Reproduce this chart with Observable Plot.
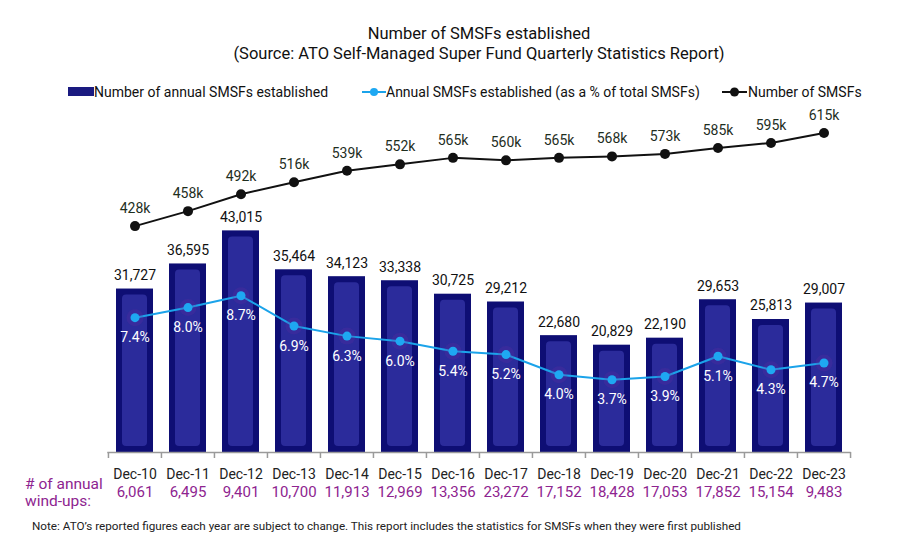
<!DOCTYPE html>
<html><head><meta charset="utf-8">
<script src="https://cdn.jsdelivr.net/npm/d3@7"></script>
<script src="https://cdn.jsdelivr.net/npm/@observablehq/plot@0.6"></script>
<style>
body{margin:0;background:#fff;font-family:Roboto,sans-serif;width:897px;height:544px;position:relative;overflow:hidden;color:#111}
.abs{position:absolute;white-space:nowrap}
#title{left:0;top:24px;width:958px;text-align:center;font-size:16.5px;line-height:20px;color:#111}
.leg{top:83.7px;font-size:14px;line-height:16px;color:#111}
#chart{position:absolute;left:0;top:100px}
#wl{left:25px;top:476px;font-size:15.5px;line-height:17.4px;color:#8e2490}
#note{left:32px;top:519px;font-size:11.7px;line-height:14px;color:#222}
</style></head>
<body>
<div id="chart"></div>
<div id="title" class="abs">Number of SMSFs established<br>(Source: ATO Self-Managed Super Fund Quarterly Statistics Report)</div>
<div class="abs leg" style="left:68px;top:87px;width:26px;height:9px;background:#1a1a80"></div>
<div class="abs leg" style="left:94px">Number of annual SMSFs established</div>
<svg class="abs" style="left:362px;top:86px" width="24" height="12"><line x1="0" y1="6" x2="24" y2="6" stroke="#1ba3ea" stroke-width="2"/><circle cx="12" cy="6" r="4" fill="#1ea8f2"/></svg>
<div class="abs leg" style="left:386px">Annual SMSFs established (as a % of total SMSFs)</div>
<svg class="abs" style="left:722px;top:86px" width="25" height="12"><line x1="0" y1="6" x2="25" y2="6" stroke="#111" stroke-width="2"/><circle cx="12.5" cy="6" r="4.5" fill="#111"/></svg>
<div class="abs leg" style="left:748px">Number of SMSFs</div>
<div id="wl" class="abs"># of annual<br>wind-ups:</div>
<div id="note" class="abs">Note: ATO’s reported figures each year are subject to change. This report includes the statistics for SMSFs when they were first published</div>
<script>
const categories = ["Dec-10","Dec-11","Dec-12","Dec-13","Dec-14","Dec-15","Dec-16","Dec-17","Dec-18","Dec-19","Dec-20","Dec-21","Dec-22","Dec-23"];
const established = [31727,36595,43015,35464,34123,33338,30725,29212,22680,20829,22190,29653,25813,29007];
const pctEstablished = [7.4,8.0,8.7,6.9,6.3,6.0,5.4,5.2,4.0,3.7,3.9,5.1,4.3,4.7];
const totalSMSFs = [428,458,492,516,539,552,565,560,565,568,573,585,595,615]; // thousands
const windUps = [6061,6495,9401,10700,11913,12969,13356,23272,17152,18428,17053,17852,15154,9483];

// hidden secondary axes (dual-axis mapping onto the count scale)
const yMax = 68320;
const pctAxis = [-0.627, 20.325];
const totalAxis = [-26.6, 680.2];
const pctToY = d3.scaleLinear(pctAxis, [0, yMax]);
const totToY = d3.scaleLinear(totalAxis, [0, yMax]);

const data = categories.map((c, i) => ({
  cat: c, est: established[i], pct: pctEstablished[i], total: totalSMSFs[i], wind: windUps[i]
}));
const fmt = d3.format(",");
const half = 26.55;

const chart = Plot.plot({
  width: 897, height: 420,
  marginTop: 0, marginBottom: 68, marginLeft: 107.3, marginRight: 46.3,
  x: {domain: categories, paddingInner: 0.309, paddingOuter: 0.155, axis: null},
  y: {domain: [0, yMax], axis: null},
  style: {fontFamily: "Roboto, sans-serif", background: "transparent"},
  marks: [
    Plot.barY(data, {x: "cat", y: "est", fill: "#0e0e74"}),
    Plot.barY(data, {x: "cat", y: "est", fill: "#2b2b9b", inset: 6, rx: 4}),
    Plot.ruleY([0], {stroke: "#9a9a9a", strokeWidth: 1.5}),
    Plot.ruleX(categories, {x: d => d, y1: 0, y2: 0, insetBottom: -6, dx: -half, stroke: "#9a9a9a", strokeWidth: 1.5}),
    Plot.ruleX([categories[categories.length - 1]], {x: d => d, y1: 0, y2: 0, insetBottom: -6, dx: half, stroke: "#9a9a9a", strokeWidth: 1.5}),
    Plot.line(data, {x: "cat", y: d => totToY(d.total), stroke: "#111", strokeWidth: 2}),
    Plot.dot(data, {x: "cat", y: d => totToY(d.total), r: 5, fill: "#111"}),
    Plot.text(data, {x: "cat", y: d => totToY(d.total), text: d => d.total + "k", dy: -17.5, fontSize: 14, fill: "#1e2e1e"}),
    Plot.line(data, {x: "cat", y: d => pctToY(d.pct), stroke: "#1ba3ea", strokeWidth: 2}),
    Plot.dot(data, {x: "cat", y: d => pctToY(d.pct), r: 8.5, fill: "#6a2fa0", fillOpacity: 0.22}),
    Plot.dot(data, {x: "cat", y: d => pctToY(d.pct), r: 4.5, fill: "#1ea8f2"}),
    Plot.text(data, {x: "cat", y: d => pctToY(d.pct), text: d => d.pct.toFixed(1) + "%", dy: 20, fontSize: 14, fill: "white"}),
    Plot.text(data, {x: "cat", y: "est", text: d => fmt(d.est), dy: -13.5, fontSize: 14, fill: "#111"}),
    Plot.text(data, {x: "cat", y: 0, text: "cat", dy: 22, fontSize: 14, fill: "#222"}),
    Plot.text(data, {x: "cat", y: 0, text: d => fmt(d.wind), dy: 39.7, fontSize: 15, fill: "#8e2490"})
  ]
});
document.getElementById("chart").appendChild(chart);
</script>
</body></html>
